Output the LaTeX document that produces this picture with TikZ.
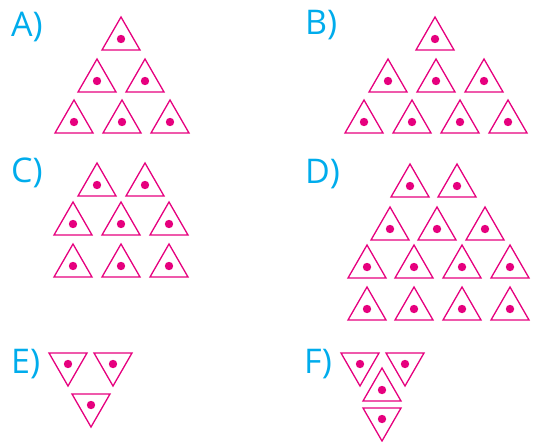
\documentclass[tikz,border=0pt]{standalone}
\usepackage{fontspec}
\setmainfont{Open Sans}
\definecolor{tripink}{RGB}{230,0,126}
\definecolor{labcyan}{RGB}{0,172,236}
\begin{document}
\begin{tikzpicture}[x=1pt,y=-1pt]
  \tikzstyle{tri}=[tripink,line width=1.3pt]
  \tikzstyle{dot}=[tripink]
  \tikzstyle{lab}=[labcyan,anchor=base west,inner sep=0pt,font=\fontsize{34}{34}\selectfont]
  \def\up#1#2{\draw[tri] (#1,#2) ++(0,-22) -- ++(19,33) -- ++(-38,0) -- cycle;
    \fill[dot] (#1,#2) circle(4.2)}   % triangle pointing up
  \def\dn#1#2{\draw[tri] (#1,#2) ++(0,22) -- ++(19,-33) -- ++(-38,0) -- cycle;
    \fill[dot] (#1,#2) circle(4.2)}   % triangle pointing down

  \useasboundingbox (0,0) rectangle (534,441);

  % A
  \node[lab] (labA) at (11,37) {A)};
  \up{121}{39};
  \foreach \x in {97,145} {\up{\x}{81};}
  \foreach \x in {74,122,170} {\up{\x}{122};}

  % B
  \node[lab] (labB) at (305,35) {B)};
  \up{435}{39};
  \foreach \x in {388,436,484} {\up{\x}{81};}
  \foreach \x in {364,412,460,508} {\up{\x}{122};}

  % C
  \node[lab] (labC) at (11,182) {C)};
  \foreach \x in {97,145} {\up{\x}{185};}
  \foreach \x in {73,121,169} {\up{\x}{224};}
  \foreach \x in {73,121,169} {\up{\x}{266};}

  % D
  \node[lab] (labD) at (305,183) {D)};
  \foreach \x in {410,457} {\up{\x}{186};}
  \foreach \x in {390,437,485} {\up{\x}{229};}
  \foreach \x in {367,414,462,510} {\up{\x}{267};}
  \foreach \x in {367,414,462,510} {\up{\x}{309};}

  % E
  \node[lab] (labE) at (11,373) {E)};
  \dn{68}{364};
  \dn{113}{364};
  \dn{91}{405};

  % F
  \node[lab] (labF) at (304,373) {F)};
  \dn{360}{364};
  \dn{405}{364};
  \up{382}{390};
  \dn{382}{419};
\end{tikzpicture}
\end{document}
